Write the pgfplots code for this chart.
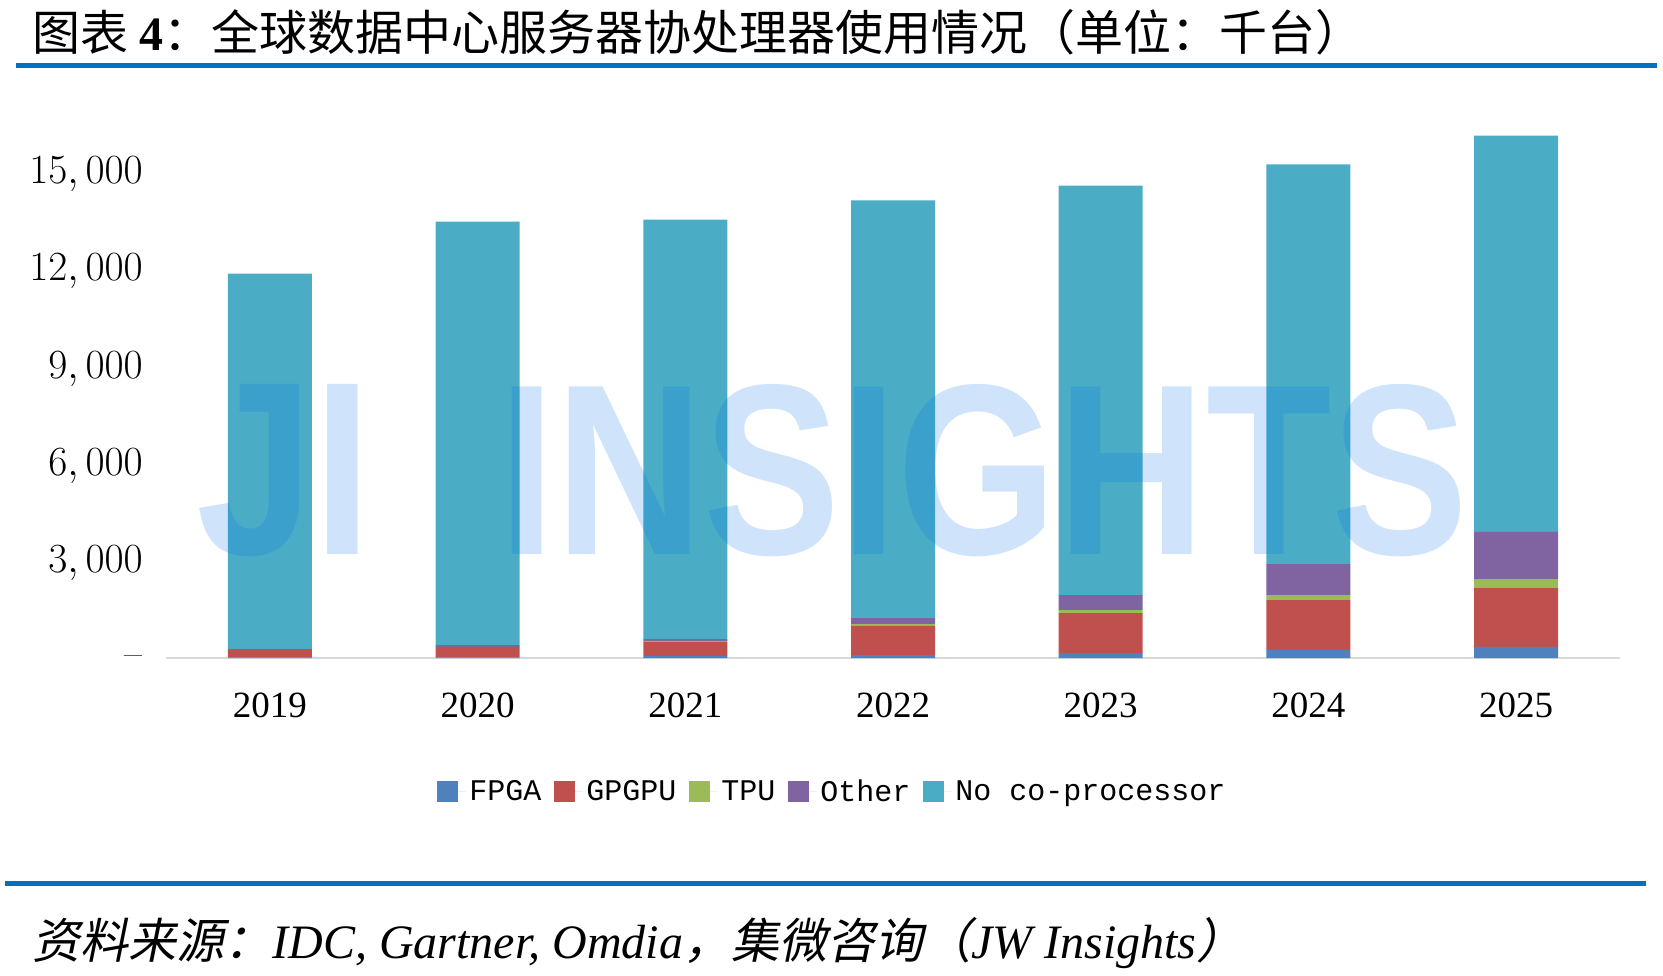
\documentclass[border=0pt]{standalone}
\usepackage{fontspec}
\usepackage{graphicx}
\usepackage{pgfplots}
\usepackage{pgfplotstable}
\pgfplotsset{compat=1.18}
\newfontfamily\cjk{Noto Sans CJK SC}
\newfontfamily\cjkslant{Noto Sans CJK SC}[FakeSlant=0.2]
\newfontfamily\tnr{Liberation Serif}
\newfontfamily\mono{Liberation Mono}
\newfontfamily\wmfont{Liberation Sans}
\definecolor{cFPGA}{HTML}{4F81BD}
\definecolor{cGPGPU}{HTML}{C0504D}
\definecolor{cTPU}{HTML}{9BBB59}
\definecolor{cOther}{HTML}{8064A2}
\definecolor{cNone}{HTML}{4BACC6}
\definecolor{lineblue}{HTML}{0070C0}
\definecolor{wmblue}{RGB}{0,110,235}

\pgfplotstableread{
x FPGA GPGPU TPU Other None
0 10 267 0 0 11562
1 15 325 0 60 13040
2 62 431 31 61 12920
3 92 894 61 185 12861
4 154 1232 92 462 12609
5 246 1540 154 955 12307
6 339 1817 277 1448 12205
}\datatable

\begin{document}
\begin{tikzpicture}
\path[use as bounding box] (0,0) rectangle (831.5pt,487.5pt);
\begin{axis}[
  at={(83pt,158.5pt)}, anchor=south west,
  scale only axis, width=727pt, height=267.85pt,
  ybar stacked, bar width=42pt,
  xmin=-0.5, xmax=6.5, ymin=0, ymax=16500,
  scaled y ticks=false,
  xtick={0,1,2,3,4,5,6},
  xticklabels={2019,2020,2021,2022,2023,2024,2025},
  ytick={0,3000,6000,9000,12000,15000},
  yticklabels={--,{$3,000$},{$6,000$},{$9,000$},{$12,000$},{$15,000$}},
  axis x line*=bottom, axis y line*=left,
  x axis line style={draw=black!15, line width=1.2pt},
  y axis line style={draw=none},
  tick style={draw=none},
  xticklabel style={font=\tnr\fontsize{18.5}{20}\selectfont, yshift=-14pt},
  yticklabel style={font=\fontsize{19.5}{22}\selectfont, xshift=-8.1pt, yshift=-1.5pt},
  legend columns=5,
  legend style={at={(0.459,-0.25)}, anchor=center, draw=none, fill=none,
    font=\mono\fontsize{15}{18}\selectfont,
    /tikz/every even column/.append style={column sep=4.5pt}},
  legend image code/.code={\path (0pt,0pt) -- (14pt,0pt);\fill[#1,draw=none] (0pt,-5.25pt) rectangle (10.5pt,5.25pt);},
]
\addplot[fill=cFPGA, draw=none] table[x=x,y=FPGA]{\datatable};
\addplot[fill=cGPGPU, draw=none] table[x=x,y=GPGPU]{\datatable};
\addplot[fill=cTPU, draw=none] table[x=x,y=TPU]{\datatable};
\addplot[fill=cOther, draw=none] table[x=x,y=Other]{\datatable};
\addplot[fill=cNone, draw=none] table[x=x,y=None]{\datatable};
\legend{FPGA,GPGPU,TPU,Other,No co-processor}
\end{axis}
% watermark
\node[text=wmblue, opacity=0.19, inner sep=0pt, anchor=south west] at (98pt,209pt)
  {\resizebox{88pt}{85pt}{\wmfont\bfseries JI}};
\node[text=wmblue, opacity=0.19, inner sep=0pt, anchor=south west] at (249pt,209pt)
  {\resizebox{485pt}{85pt}{\wmfont\bfseries INSIGHTS}};
% title
\node[anchor=west, inner sep=0pt] at (16pt,471.5pt)
  {\cjk\fontsize{24}{28}\selectfont 图表 {\tnr\bfseries 4}：全球数据中心服务器协处理器使用情况（单位：千台）};
\draw[line width=2.5pt, lineblue] (8pt,454.5pt) -- (828.5pt,454.5pt);
\draw[line width=2.5pt, lineblue] (2.5pt,46pt) -- (823pt,46pt);
\node[anchor=west, inner sep=0pt] at (16pt,16pt)
  {\cjkslant\fontsize{24}{28}\selectfont 资料来源：{\tnr\itshape IDC, Gartner, Omdia}，集微咨询（{\tnr\itshape JW Insights}）};
\end{tikzpicture}
\end{document}
